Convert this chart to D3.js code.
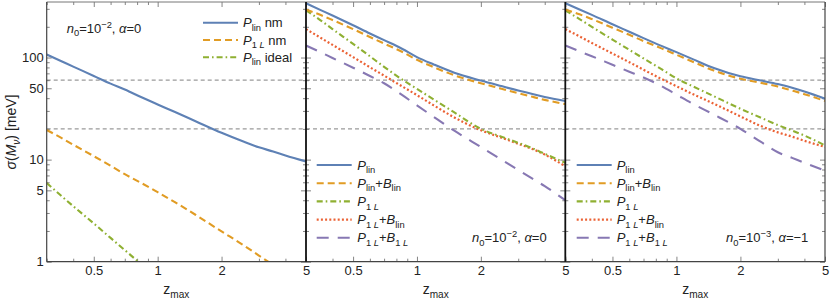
<!DOCTYPE html>
<html><head><meta charset="utf-8">
<script src="https://cdn.jsdelivr.net/npm/d3@7"></script>
<style>
body{margin:0;background:#fff}
svg{display:block}
text{font-family:"Liberation Sans",Arial,Helvetica,sans-serif;fill:#222}
</style>
</head><body>
<svg id="c" width="830" height="300"></svg>
<script>
// ---------------- data ----------------
const zGrid = [0.3, 0.35, 0.4, 0.5, 0.6, 0.7, 0.85, 1, 1.2, 1.5, 2, 2.5, 3, 3.5, 4, 5];

const xTickLabels = [0.5, 1, 2, 5];
const xMinorTicks = [0.3, 0.4, 0.6, 0.7, 0.8, 0.9, 3, 4];
const yTickLabels = [1, 5, 10, 50, 100];
const yMinorTicks = [2, 3, 4, 6, 7, 8, 9, 20, 30, 40, 60, 70, 80, 90, 200, 300];
const refLines = [60, 20];

// panel 1 : n0=1e-2, alpha=0
const p1LinNm    = [107, 92.5, 81.5, 66, 55.5, 48.6, 40.3, 34.7, 29.4, 23.9, 18.3, 15.2, 13.2, 12.0, 11.0, 9.6];
const p1OneLNm   = [19.5, 16.4, 14, 10.8, 8.7, 7.2, 5.8, 4.8, 3.85, 2.9, 1.98, 1.48, 1.15, 0.93, 0.78, 0.58];
const p1LinIdeal = [5.9, 4.45, 3.5, 2.37, 1.71, 1.3, 0.92, 0.7, null, null, null, null, null, null, null, null];

// panel 2 : n0=1e-2, alpha=0
const p2Lin      = [340, 293, 258, 207, 172, 148, 122, 101, 85.5, 71, 59.5, 52.5, 47.5, 44, 41, 37.5];
const p2LinBlin  = [295, 262, 233, 190, 159, 137, 114, 95, 80.5, 67, 56, 49.5, 44.7, 41.2, 38.5, 35];
const p2OneL     = [290, 233, 190, 136, 103, 81, 61, 49.3, 38.8, 29, 20, 16.8, 14.6, 12.9, 11.4, 9.3];
const p2OneLBlin = [190, 157, 133, 101, 80.4, 66.5, 52.3, 42.8, 34, 25.9, 19.4, 16.4, 14.3, 12.7, 11.2, 8.6];
const p2OneLB1L  = [131, 113, 99, 79.5, 66, 56, 43, 34, 26.2, 19.2, 13.3, 10, 7.9, 6.5, 5.5, 4.0];

// panel 3 : n0=1e-3, alpha=-1
const p3Lin      = [340, 296, 262, 212, 179, 155, 130, 113, 96, 79, 65.5, 59.5, 55, 50.5, 46.5, 39.5];
const p3LinBlin  = [295, 265, 238, 196, 167, 145, 123, 106.5, 90.5, 74.5, 62, 56.5, 52, 47.5, 43.8, 37.5];
const p3OneL     = [290, 238, 200, 150, 119, 98, 77, 62.5, 52, 41.8, 31.5, 25.7, 21.8, 19.3, 17.2, 13.8];
const p3OneLBlin = [190, 161, 139, 109.5, 90, 76, 61.7, 52.4, 43.6, 35.3, 26.5, 21.3, 18.5, 16.8, 15.3, 13.3];
const p3OneLB1L  = [131, 115, 103, 85, 72.7, 63.8, 52.6, 43.4, 35, 27.6, 20, 14.9, 11.8, 10.4, 9.3, 7.8];

// ---------------- styles ----------------
const styles = {
  blue:   {color: "#5E81B5", dash: null,          width: 2.1},
  orange: {color: "#E19C24", dash: "7,4",         width: 2.1},
  green:  {color: "#8FB032", dash: "6,3,1.6,3",   width: 2.1},
  red:    {color: "#EB6235", dash: "2,2.2",       width: 2.2},
  purple: {color: "#8778B3", dash: "12,9",        width: 2.1}
};

// rich-text labels
const L = {
  linNm:   [{t:"P",i:1},{t:"lin",sub:1},{t:" nm"}],
  oneLNm:  [{t:"P",i:1},{t:"1 ",sub:1},{t:"L",sub:1,i:1},{t:" nm"}],
  linIdeal:[{t:"P",i:1},{t:"lin",sub:1},{t:" ideal"}],
  lin:     [{t:"P",i:1},{t:"lin",sub:1}],
  linBlin: [{t:"P",i:1},{t:"lin",sub:1},{t:"+"},{t:"B",i:1},{t:"lin",sub:1}],
  oneL:    [{t:"P",i:1},{t:"1 ",sub:1},{t:"L",sub:1,i:1}],
  oneLBlin:[{t:"P",i:1},{t:"1 ",sub:1},{t:"L",sub:1,i:1},{t:"+"},{t:"B",i:1},{t:"lin",sub:1}],
  oneLB1L: [{t:"P",i:1},{t:"1 ",sub:1},{t:"L",sub:1,i:1},{t:"+"},{t:"B",i:1},{t:"1 ",sub:1},{t:"L",sub:1,i:1}]
};
const ann1 = [{t:"n",i:1},{t:"0",sub:1},{t:"=10"},{t:"\u22122",sup:1},{t:", "},{t:"\u03B1",i:1},{t:"=0"}];
const ann3 = [{t:"n",i:1},{t:"0",sub:1},{t:"=10"},{t:"\u22123",sup:1},{t:", "},{t:"\u03B1",i:1},{t:"=\u22121"}];

const panels = [
  {x0: 46.7, x1: 306, series: [
      {v: p1LinNm, s: "blue", lab: L.linNm},
      {v: p1OneLNm, s: "orange", lab: L.oneLNm},
      {v: p1LinIdeal, s: "green", lab: L.linIdeal}],
   legend: {x: 203, tx: 243, y: 22.7, dy: 17.3},
   ann: {parts: ann1, x: 66.7, y: 28.3, anchor: "start"}},
  {x0: 306, x1: 565.3, series: [
      {v: p2Lin, s: "blue", lab: L.lin},
      {v: p2LinBlin, s: "orange", lab: L.linBlin},
      {v: p2OneL, s: "green", lab: L.oneL},
      {v: p2OneLBlin, s: "red", lab: L.oneLBlin},
      {v: p2OneLB1L, s: "purple", lab: L.oneLB1L}],
   legend: {x: 316.7, tx: 357.3, y: 165, dy: 18.2},
   ann: {parts: ann1, x: 546.7, y: 237.7, anchor: "end"}},
  {x0: 565.3, x1: 825, series: [
      {v: p3Lin, s: "blue", lab: L.lin},
      {v: p3LinBlin, s: "orange", lab: L.linBlin},
      {v: p3OneL, s: "green", lab: L.oneL},
      {v: p3OneLBlin, s: "red", lab: L.oneLBlin},
      {v: p3OneLB1L, s: "purple", lab: L.oneLB1L}],
   legend: {x: 576.7, tx: 616.7, y: 165, dy: 18.2},
   ann: {parts: ann3, x: 808.3, y: 237.7, anchor: "end"}}
];

// ---------------- drawing ----------------
const svg = d3.select("#c");
const yTop = 2, yBot = 261.7, FS = 13;
const y = d3.scaleLog().domain([1, 350]).range([yBot, yTop]);

function rich(textSel, parts, fs) {
  let shift = 0;
  parts.forEach(p => {
    const target = p.sub ? 3.5 : (p.sup ? -5 : 0);
    const ts = textSel.append("tspan").text(p.t).attr("dy", target - shift);
    shift = target;
    if (p.sub || p.sup) ts.attr("font-size", fs * 0.72);
    if (p.i) ts.attr("font-style", "italic");
  });
}

panels.forEach((P, pi) => {
  const x = d3.scaleLog().domain([0.3, 5]).range([P.x0, P.x1]);
  const g = svg.append("g");
  const cid = "clip" + pi;
  svg.append("clipPath").attr("id", cid).append("rect")
    .attr("x", P.x0).attr("y", yTop).attr("width", P.x1 - P.x0).attr("height", yBot - yTop);

  refLines.forEach(r => {
    g.append("line").attr("x1", P.x0).attr("x2", P.x1)
      .attr("y1", y(r)).attr("y2", y(r))
      .attr("stroke", "#9a9a9a").attr("stroke-width", 1.3).attr("stroke-dasharray", "4,3");
  });

  const fmt = d => String(d);
  const axB = d3.axisBottom(x).tickValues(xTickLabels).tickFormat(fmt).tickSizeInner(-5).tickSizeOuter(0).tickPadding(4);
  const axBm = d3.axisBottom(x).tickValues(xMinorTicks).tickFormat("").tickSizeInner(-3).tickSizeOuter(0);
  const axT = d3.axisTop(x).tickValues(xTickLabels).tickFormat("").tickSizeInner(-5).tickSizeOuter(0);
  const axTm = d3.axisTop(x).tickValues(xMinorTicks).tickFormat("").tickSizeInner(-3).tickSizeOuter(0);
  const axL = d3.axisLeft(y).tickValues(yTickLabels).tickFormat(pi === 0 ? fmt : "").tickSizeInner(-5).tickSizeOuter(0).tickPadding(3);
  const axLm = d3.axisLeft(y).tickValues(yMinorTicks).tickFormat("").tickSizeInner(-3).tickSizeOuter(0);
  const axR = d3.axisRight(y).tickValues(yTickLabels).tickFormat("").tickSizeInner(-5).tickSizeOuter(0);
  const axRm = d3.axisRight(y).tickValues(yMinorTicks).tickFormat("").tickSizeInner(-3).tickSizeOuter(0);

  const addAxis = (ax, tr) => {
    const a = g.append("g").attr("transform", tr).call(ax);
    a.select(".domain").remove();
    a.selectAll(".tick line").attr("stroke", "#666").attr("stroke-width", 0.8);
    a.selectAll("text").attr("font-size", FS).attr("fill", "#222")
      .attr("font-family", '"Liberation Sans",Arial,sans-serif');
    return a;
  };
  addAxis(axB, `translate(0,${yBot})`);
  addAxis(axBm, `translate(0,${yBot})`);
  addAxis(axT, `translate(0,${yTop})`);
  addAxis(axTm, `translate(0,${yTop})`);
  addAxis(axL, `translate(${P.x0},0)`);
  addAxis(axLm, `translate(${P.x0},0)`);
  addAxis(axR, `translate(${P.x1},0)`);
  addAxis(axRm, `translate(${P.x1},0)`);

  const lg = g.append("g").attr("clip-path", `url(#${cid})`);
  const line = d3.line()
    .defined(d => d[1] != null)
    .x(d => x(d[0])).y(d => y(d[1]))
    .curve(d3.curveMonotoneX);
  P.series.slice().reverse().forEach(S => {
    const st = styles[S.s];
    lg.append("path")
      .datum(zGrid.map((z, i) => [z, S.v[i]]))
      .attr("d", line)
      .attr("fill", "none")
      .attr("stroke", st.color)
      .attr("stroke-width", st.width)
      .attr("stroke-dasharray", st.dash);
  });

  P.series.forEach((S, i) => {
    const st = styles[S.s];
    const yy = P.legend.y + i * P.legend.dy;
    g.append("line").attr("x1", P.legend.x).attr("x2", P.legend.x + 35)
      .attr("y1", yy).attr("y2", yy)
      .attr("stroke", st.color).attr("stroke-width", st.width).attr("stroke-dasharray", st.dash);
    const t = g.append("text").attr("x", P.legend.tx).attr("y", yy + 4.6).attr("font-size", FS);
    rich(t, S.lab, FS);
  });

  const at = g.append("text").attr("x", P.ann.x).attr("y", P.ann.y + 4.6)
    .attr("font-size", FS).attr("text-anchor", P.ann.anchor);
  rich(at, P.ann.parts, FS);

  const xt = g.append("text").attr("x", (P.x0 + P.x1) / 2).attr("y", 294)
    .attr("font-size", FS + 1).attr("text-anchor", "middle");
  rich(xt, [{t:"z"},{t:"max",sub:1}], FS + 1);
});

const fr = svg.append("g").attr("fill", "none");
fr.append("line").attr("x1", 46.7).attr("x2", 825).attr("y1", yTop).attr("y2", yTop).attr("stroke", "#777").attr("stroke-width", 1);
fr.append("line").attr("x1", 46.7).attr("x2", 825).attr("y1", yBot).attr("y2", yBot).attr("stroke", "#444").attr("stroke-width", 1.2);
fr.append("line").attr("x1", 46.7).attr("x2", 46.7).attr("y1", yTop).attr("y2", yBot).attr("stroke", "#444").attr("stroke-width", 1.2);
fr.append("line").attr("x1", 825).attr("x2", 825).attr("y1", yTop).attr("y2", yBot).attr("stroke", "#444").attr("stroke-width", 1.2);
[306, 565.3].forEach(xx => {
  fr.append("line").attr("x1", xx).attr("x2", xx).attr("y1", yTop).attr("y2", yBot).attr("stroke", "#111").attr("stroke-width", 1.8);
});

const yt = svg.append("text").attr("transform", "translate(16,132) rotate(-90)")
  .attr("font-size", FS + 1).attr("text-anchor", "middle");
rich(yt, [{t:"\u03C3",i:1},{t:"("},{t:"M",i:1},{t:"\u03BD",sub:1,i:1},{t:") [meV]"}], FS + 1);
</script>
</body></html>
